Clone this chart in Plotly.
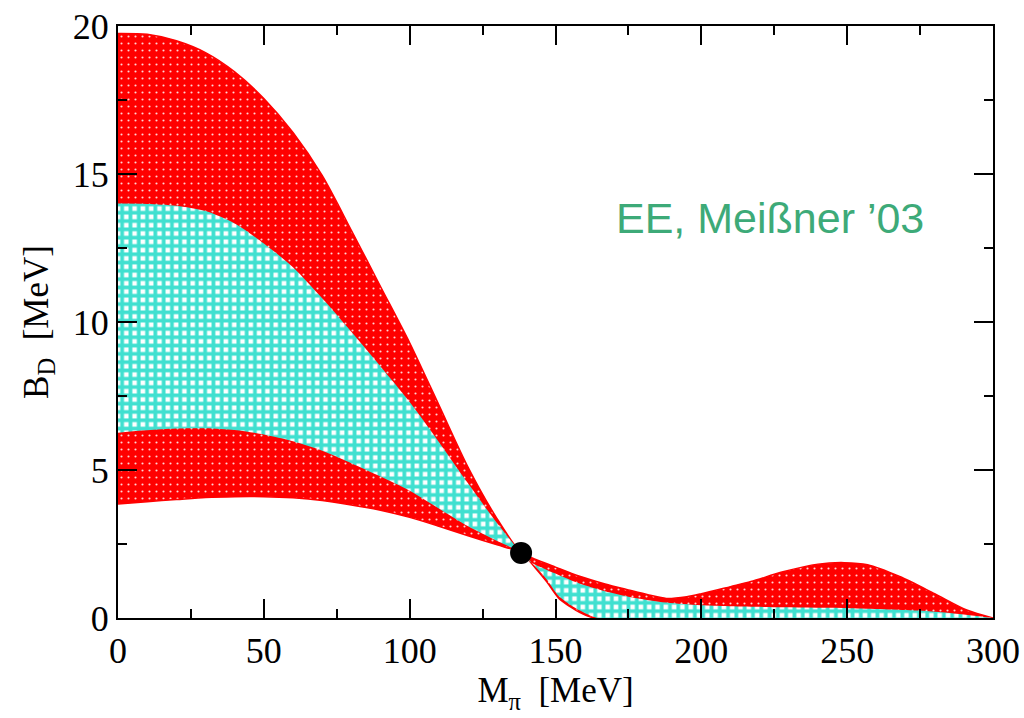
import plotly.graph_objects as go

# Outer (red) band, upper edge, over the full pion-mass range
red_hi_x = [0, 10, 20, 30, 40, 50, 60, 70, 80, 90, 100, 110, 120, 130, 138.2,
            141, 150, 158, 167, 175, 182, 188, 195, 200, 210, 217, 228, 240,
            249, 257, 268, 280, 291, 300]
red_hi_y = [19.75, 19.72, 19.5, 19.1, 18.45, 17.55, 16.4, 14.95, 13.1, 11.2, 9.3, 7.2, 5.1, 3.35, 2.2,
            2.07, 1.72, 1.42, 1.15, 0.95, 0.78, 0.66, 0.72, 0.82, 1.06, 1.23, 1.56, 1.82,
            1.87, 1.80, 1.40, 0.82, 0.27, 0.0]

# Outer (red) band, lower edge
red_lo_x = [0, 10, 20, 30, 40, 50, 60, 70, 80, 90, 100, 110, 120, 130, 138.2,
            143, 147, 151, 155, 158.4, 162, 164, 300]
red_lo_y = [3.85, 3.93, 4.0, 4.07, 4.1, 4.1, 4.06, 3.97, 3.82, 3.64, 3.4, 3.1, 2.78, 2.47, 2.2,
            1.7, 1.22, 0.68, 0.38, 0.18, 0.03, 0.0, 0.0]

# Inner (turquoise) band, upper edge
cyan_hi_x = [0, 10, 20, 30, 40, 50, 60, 70, 80, 90, 100, 110, 120, 130, 138.2,
             141, 150, 158, 167, 175, 188, 200, 228, 251, 274, 290, 300]
cyan_hi_y = [14.0, 13.99, 13.93, 13.75, 13.33, 12.65, 11.85, 10.8, 9.67, 8.5, 7.3, 5.95, 4.55, 3.2, 2.2,
             1.92, 1.5, 1.17, 0.9, 0.72, 0.52, 0.43, 0.36, 0.33, 0.25, 0.12, 0.0]

# Inner (turquoise) band, lower edge
cyan_lo_x = [0, 10, 20, 30, 40, 50, 60, 70, 80, 90, 100, 110, 120, 130, 138.2,
             143, 147, 151, 155, 158.4, 162, 165, 300]
cyan_lo_y = [6.26, 6.34, 6.4, 6.41, 6.35, 6.2, 5.97, 5.65, 5.23, 4.78, 4.3, 3.7, 3.1, 2.6, 2.2,
             1.75, 1.3, 0.75, 0.45, 0.25, 0.08, 0.0, 0.0]

# Physical point
phys_x = [138.2]
phys_y = [2.2]

x_ticks = [0, 50, 100, 150, 200, 250, 300]
y_ticks = [0, 5, 10, 15, 20]

RED = "#ff0000"
TURQ = "#40e0d0"
GREEN = "#3daa78"
SERIF = "Liberation Serif, Times New Roman, serif"


def band(xh, yh, xl, yl):
    return xh + xl[::-1], yh + yl[::-1]


fig = go.Figure()

bx, by = band(red_hi_x, red_hi_y, red_lo_x, red_lo_y)
fig.add_trace(go.Scatter(
    x=bx, y=by, mode="lines", fill="toself",
    line=dict(color=RED, width=1.5, shape="spline", smoothing=0.8),
    fillcolor=RED,
    fillpattern=dict(shape=".", bgcolor=RED, fgcolor="rgba(255,235,235,0.9)",
                     size=7, solidity=0.07, fillmode="replace"),
    hoverinfo="skip", showlegend=False,
))

cx, cy = band(cyan_hi_x, cyan_hi_y, cyan_lo_x, cyan_lo_y)
fig.add_trace(go.Scatter(
    x=cx, y=cy, mode="lines", fill="toself",
    line=dict(color=TURQ, width=0, shape="spline", smoothing=0.8),
    fillcolor=TURQ,
    fillpattern=dict(shape="+", bgcolor="white", fgcolor=TURQ,
                     size=8.3, solidity=0.7, fillmode="replace"),
    hoverinfo="skip", showlegend=False,
))

fig.add_trace(go.Scatter(
    x=phys_x, y=phys_y, mode="markers",
    marker=dict(color="black", size=22, symbol="circle"),
    hoverinfo="skip", showlegend=False,
))

fig.add_annotation(
    x=170, y=13.5, xref="x", yref="y", xanchor="left", yanchor="middle",
    text="EE, Meißner \u201903", showarrow=False,
    font=dict(family="Liberation Sans, Arial, sans-serif", size=43, color=GREEN),
)

axis_common = dict(
    showline=True, linecolor="black", linewidth=2, mirror="allticks",
    ticks="inside", ticklen=19, tickwidth=2, tickcolor="black",
    showgrid=False, zeroline=False, automargin=False,
    tickfont=dict(family=SERIF, size=36, color="black"),
)

fig.update_xaxes(
    range=[0, 300], tickvals=x_ticks, ticktext=[str(v) for v in x_ticks],
    minor=dict(dtick=25, tick0=0, ticks="inside", ticklen=9, tickwidth=2, tickcolor="black"),
    title=dict(text="M<sub>\u03c0</sub>\u00a0\u00a0[MeV]", standoff=2,
               font=dict(family=SERIF, size=35, color="black")),
    **axis_common,
)
fig.update_yaxes(
    range=[0, 20], tickvals=y_ticks, ticktext=[str(v) for v in y_ticks],
    minor=dict(dtick=2.5, tick0=0, ticks="inside", ticklen=9, tickwidth=2, tickcolor="black"),
    title=dict(text="B<sub>D</sub>\u00a0\u00a0[MeV]", standoff=14,
               font=dict(family=SERIF, size=35, color="black")),
    **axis_common,
)

fig.update_layout(
    width=1024, height=718,
    margin=dict(l=118, r=31, t=26, b=100),
    paper_bgcolor="white", plot_bgcolor="white",
)

fig.write_html("out.html")
